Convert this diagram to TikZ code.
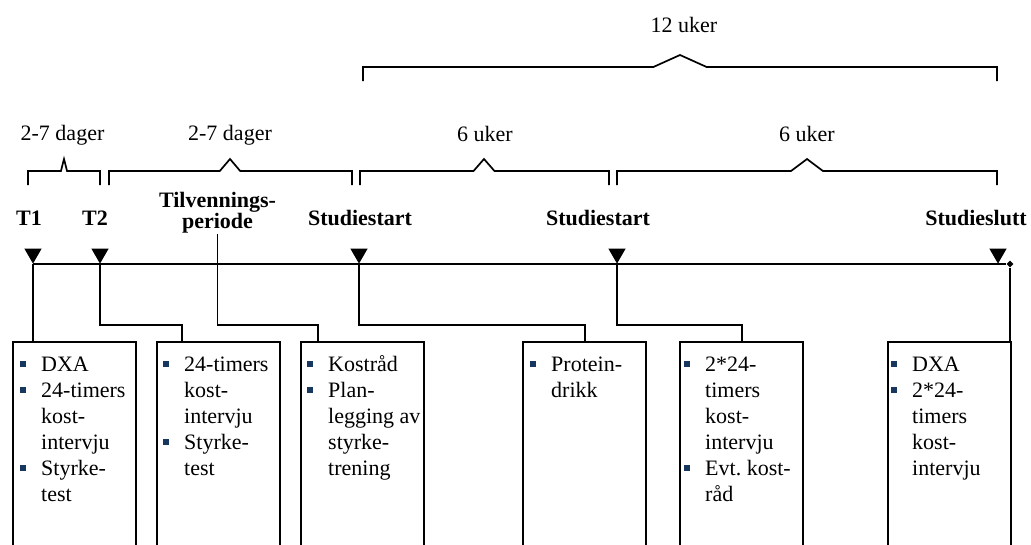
\documentclass[tikz,border=0pt]{standalone}
\usepackage{fontspec}
\setmainfont{Liberation Serif}
\usetikzlibrary{positioning,shapes.geometric}
\frenchspacing

\definecolor{punktbla}{RGB}{23,55,94}
\newcommand{\bul}{\leavevmode\llap{\textcolor{punktbla}{\rule[4pt]{6pt}{6pt}}\hspace{15pt}}}
% vinkelklamme: x1, x2, x-topp, y
\newcommand{\klamme}[4]{%
  \pgfmathsetmacro\hw{0.042*(#2-#1)}%
  \draw[brak] (#1,#4+14) -- (#1,#4) -- (#3-\hw,#4) -- (#3,#4-12)
    -- (#3+\hw,#4) -- (#2,#4) -- (#2,#4+14);}

\begin{document}
\begin{tikzpicture}[x=1pt,y=-1pt,
    kasse/.style={draw,line width=2.4pt,anchor=north west,minimum width=123pt,minimum height=240pt,inner sep=0pt},
    punkt/.style={anchor=base west,text width=110pt,align=flush left,inner sep=0pt,font=\fontsize{22}{26}\selectfont},
    tid/.style={anchor=base,inner sep=1pt,font=\fontsize{22}{21}\selectfont\bfseries},
    varig/.style={anchor=base,inner sep=1pt,font=\fontsize{22}{26}\selectfont},
    merke/.style={regular polygon,regular polygon sides=3,shape border rotate=180,fill,inner sep=0pt,minimum size=20pt,anchor=corner 1},
    forb/.style={line width=1.8pt},
    brak/.style={line width=1.7pt}]
  \useasboundingbox (0,0) rectangle (1031,544);
  \clip (0,0) rectangle (1031,544);

  % tidslinje
  \coordinate (h) at (0,325);
  \node[diamond,fill,inner sep=0pt,minimum size=7pt] (slutt) at (1010,264) {};
  \node[merke] (m1) at (33,264) {};
  \node[merke] (m2) at (100,264) {};
  \node[merke] (m3) at (359,264) {};
  \node[merke] (m4) at (617,264) {};
  \node[merke] (m5) at (998,264) {};
  \draw[forb] (m1.corner 1) -- (slutt);

  % tidspunkt
  \node[tid] (lt1) at (29,225) {T1};
  \node[tid] (lt2) at (95,225) {T2};
  \node[tid,text width=140pt,align=center] (tp) at (217.5,207) {Tilvennings-\\periode};
  \node[tid] (ls1) at (360,225) {Studiestart};
  \node[tid] (ls2) at (598,225) {Studiestart};
  \node[tid] (lslutt) at (976,225) {Studieslutt};

  % varighet
  \node[varig] (d1) at (62.5,140) {2-7 dager};
  \node[varig] (d2) at (230,140) {2-7 dager};
  \node[varig] (u1) at (485,141) {6 uker};
  \node[varig] (u2) at (807,141) {6 uker};
  \node[varig] (u12) at (684,32) {12 uker};
  \klamme{28}{100}{64}{171}
  \klamme{109}{352}{230}{171}
  \klamme{360}{609}{484}{171}
  \klamme{617}{997}{807}{171}
  \klamme{363}{997}{680}{67}

  % kasser
  \node[kasse] (b1) at (12,341) {};
  \node[kasse] (b2) at (156,341) {};
  \node[kasse] (b3) at (300,341) {};
  \node[kasse] (b4) at (522,341) {};
  \node[kasse] (b5) at (679,341) {};
  \node[kasse] (b6) at (887,341) {};

  \node[punkt] (l1) at ([xshift=29pt,yshift=-30pt]b1.north west) {\bul DXA\\ \bul 24-timers\\ kost-\\ intervju\\ \bul Styrke-\\ test};
  \node[punkt] (l2) at ([xshift=28pt,yshift=-30pt]b2.north west) {\bul 24-timers\\ kost-\\ intervju\\ \bul Styrke-\\ test};
  \node[punkt] (l3) at ([xshift=28pt,yshift=-30pt]b3.north west) {\bul Kostråd\\ \bul Plan-\\ legging av\\ styrke-\\ trening};
  \node[punkt] (l4) at ([xshift=29pt,yshift=-30pt]b4.north west) {\bul Protein-\\ drikk};
  \node[punkt] (l5) at ([xshift=26pt,yshift=-30pt]b5.north west) {\bul 2*24-\\ timers\\ kost-\\ intervju\\ \bul Evt. kost-\\ råd};
  \node[punkt] (l6) at ([xshift=25pt,yshift=-30pt]b6.north west) {\bul DXA\\ \bul 2*24-\\ timers\\ kost-\\ intervju};

  % forbindelser
  \draw[forb] (m1.corner 1) -- (m1 |- b1.north);
  \draw[forb] (m2.corner 1) -- (m2 |- h) -| ([xshift=-37pt]b2.north);
  \draw[forb] (tp.south) -- (tp.south |- h) -| ([xshift=-45pt]b3.north);
  \draw[forb] (m3.corner 1) -- (m3 |- h) -| (b4.north);
  \draw[forb] (m4.corner 1) -- (m4 |- h) -| (b5.north);
  \draw[forb] (slutt) -- (slutt |- b6.north);
\end{tikzpicture}
\end{document}
